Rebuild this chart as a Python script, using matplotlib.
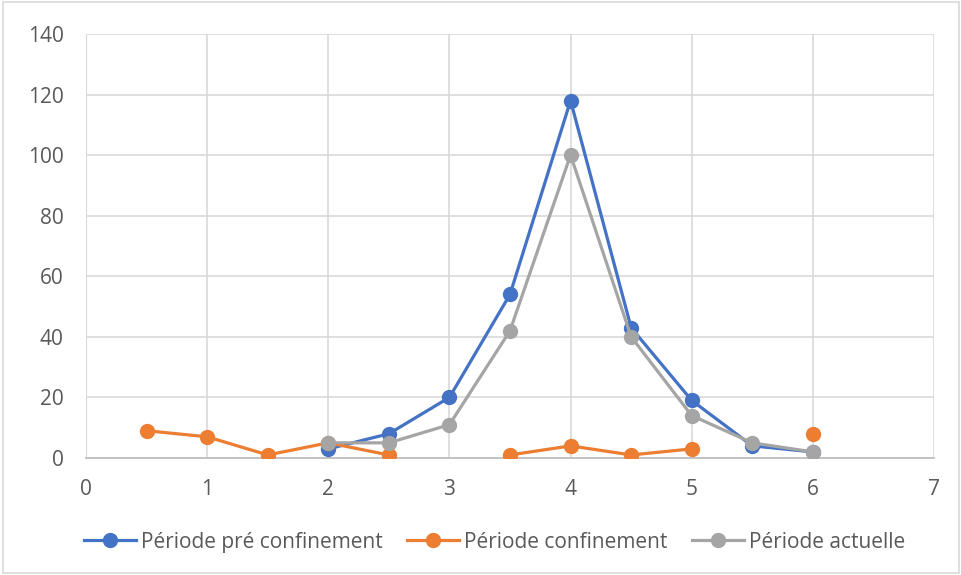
import numpy as np
import matplotlib.pyplot as plt

# --- data ---
x = [0.5, 1, 1.5, 2, 2.5, 3, 3.5, 4, 4.5, 5, 5.5, 6]
pre_conf = [np.nan, np.nan, np.nan, 3, 8, 20, 54, 118, 43, 19, 4, 2]
confinement = [9, 7, 1, 5, 1, np.nan, 1, 4, 1, 3, np.nan, 8]
actuelle = [np.nan, np.nan, np.nan, 5, 5, 11, 42, 100, 40, 14, 5, 2]
labels = ['Période pré confinement', 'Période confinement', 'Période actuelle']
colors = ['#4472C4', '#ED7D31', '#A5A5A5']

plt.rcParams['font.family'] = ['Open Sans', 'DejaVu Sans']

fig = plt.figure(figsize=(9.62, 5.75), dpi=100)
ax = fig.add_axes([0.0894, 0.2035, 0.8815, 0.7375])

for ys, lab, c in zip([pre_conf, confinement, actuelle], labels, colors):
    ax.plot(x, ys, color=c, linewidth=2.3, marker='o', markersize=10,
            label=lab, zorder=3)

ax.set_xlim(0, 7)
ax.set_ylim(0, 140)
ax.set_xticks(range(0, 8))
ax.set_yticks(range(0, 141, 20))
ax.grid(True, color='#d9d9d9', linewidth=1.2)
ax.set_axisbelow(True)
for s in ['top', 'right']:
    ax.spines[s].set_visible(False)
ax.spines['left'].set_color('#d9d9d9')
ax.spines['bottom'].set_color('#bfbfbf')
ax.spines['bottom'].set_linewidth(1.3)
ax.tick_params(length=0, labelsize=15, labelcolor='#595959')
ax.tick_params(axis='y', pad=16)
ax.tick_params(axis='x', pad=15)

fig.legend(loc='center', bbox_to_anchor=(0.514, 0.057), ncol=3, frameon=False,
           fontsize=15, labelcolor='#595959', handlelength=2.5,
           handletextpad=0.25, columnspacing=1.15)

# outer chart border
fig.patches.append(plt.Rectangle((0.003, 0.003), 0.994, 0.994,
                                 transform=fig.transFigure, fill=False,
                                 edgecolor='#d9d9d9', linewidth=1.2))

fig.savefig('out.png', dpi=100)
